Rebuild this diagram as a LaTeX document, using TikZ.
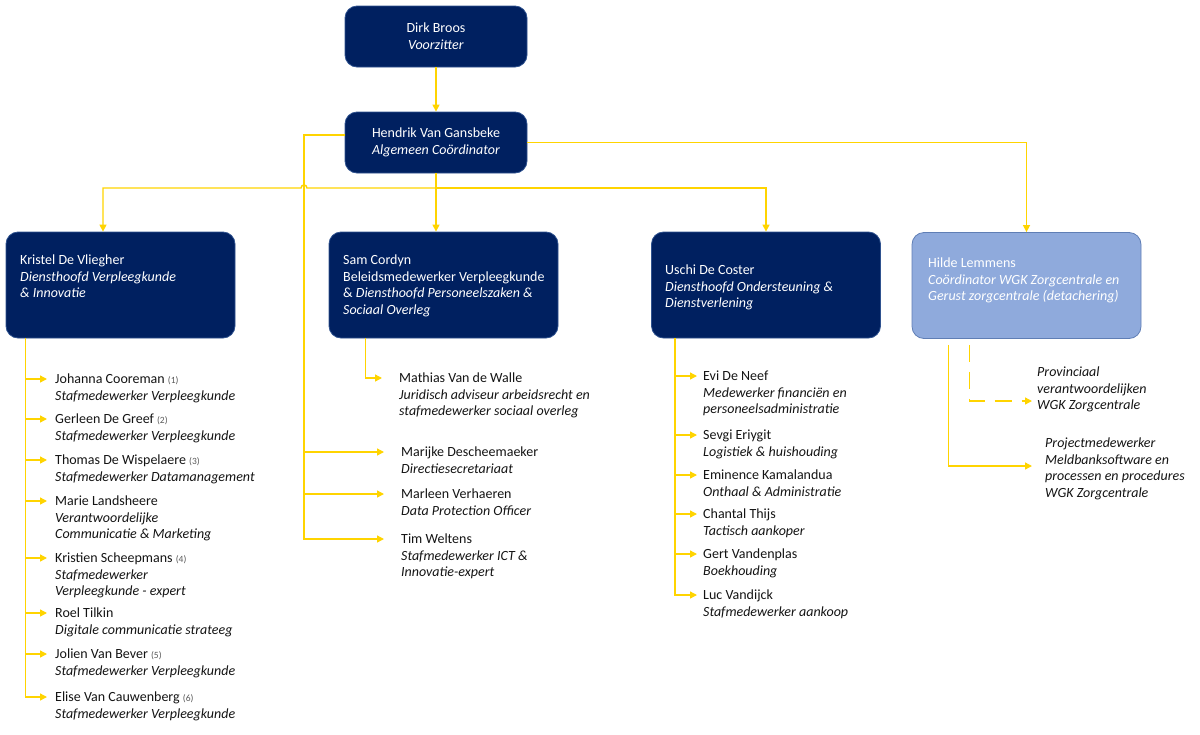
\documentclass[tikz,border=0pt]{standalone}
\usepackage{fontspec}
\setmainfont{Carlito}
\usetikzlibrary{arrows.meta}
\definecolor{navy}{RGB}{0,32,96}
\definecolor{navyline}{RGB}{47,82,143}
\definecolor{lightblue}{RGB}{143,170,220}
\definecolor{gold}{RGB}{255,212,0}
\definecolor{numgray}{RGB}{89,89,89}
\definecolor{inkblack}{RGB}{20,20,20}
\newcommand{\nr}[1]{{\fontsize{9.5}{10}\selectfont\color{numgray}#1}}
\newcommand{\basefnt}{\fontsize{14}{16.7}\selectfont}
\newcommand{\stk}[1]{\begin{tabular}[t]{@{}l@{}}#1\end{tabular}}
\begin{document}
\begin{tikzpicture}[x=1pt,y=-1pt,
  every node/.style={font=\basefnt},
  darkbox/.style={draw=navyline, line width=0.8pt, fill=navy, rounded corners=12pt, inner sep=0pt},
  lightbox/.style={darkbox, fill=lightblue, draw=navyline!50!lightblue},
  boxtext/.style={text=white, anchor=base west, inner sep=0pt},
  stafftext/.style={text=inkblack, anchor=base west, inner sep=0pt},
  itstaff/.style={stafftext, font=\basefnt\itshape},
  conn/.style={draw=gold, line width=1.4pt},
  arr/.style={conn, -{Triangle[length=7pt,width=7pt]}},
  dashconn/.style={arr, dash pattern=on 17pt off 10pt}
]
\useasboundingbox (0,0) rectangle (1200,734);

% main boxes
\node[darkbox, minimum width=182pt, minimum height=61pt, text=white, align=center] (dirk) at (436,36.5) {Dirk Broos\\\textit{Voorzitter}};
\node[darkbox, minimum width=182pt, minimum height=61pt, text=white, align=center] (hendrik) at (436,142.5) {Hendrik Van Gansbeke\\\textit{Algemeen Coördinator}};
\node[darkbox, minimum width=229pt, minimum height=106pt] (kristel) at (120.5,285) {};
\node[darkbox, minimum width=229pt, minimum height=106pt] (sam) at (443.5,285) {};
\node[darkbox, minimum width=229pt, minimum height=106pt] (uschi) at (766,285) {};
\node[lightbox, minimum width=229pt, minimum height=106pt] (hilde) at (1026.5,285.5) {};

\node[boxtext] (kristel-t) at (20,264.5) {\stk{Kristel De Vliegher\\\textit{Diensthoofd Verpleegkunde}\\\textit{\& Innovatie}}};
\node[boxtext] (sam-t) at (343,264.5) {\stk{Sam Cordyn\\Beleidsmedewerker Verpleegkunde\\\& \textit{Diensthoofd Personeelszaken \&}\\\textit{Sociaal Overleg}}};
\node[boxtext] (uschi-t) at (665,274.5) {\stk{Uschi De Coster\\\textit{Diensthoofd Ondersteuning \&}\\\textit{Dienstverlening}}};
\node[boxtext] (hilde-t) at (928,267.5) {\stk{Hilde Lemmens\\\textit{Coördinator WGK Zorgcentrale en}\\\textit{Gerust zorgcentrale (detachering)}}};

% Kristel staff
\node[stafftext] (johanna) at (55,383.5) {\stk{Johanna Cooreman \nr{(1)}\\\textit{Stafmedewerker Verpleegkunde}}};
\node[stafftext] (gerleen) at (55,423.5) {\stk{Gerleen De Greef \nr{(2)}\\\textit{Stafmedewerker Verpleegkunde}}};
\node[stafftext] (thomas) at (55,464.5) {\stk{Thomas De Wispelaere \nr{(3)}\\\textit{Stafmedewerker Datamanagement}}};
\node[stafftext] (marie) at (55,505.5) {\stk{Marie Landsheere\\\textit{Verantwoordelijke}\\\textit{Communicatie \& Marketing}}};
\node[stafftext] (kristien) at (55,562.5) {\stk{Kristien Scheepmans \nr{(4)}\\\textit{Stafmedewerker}\\\textit{Verpleegkunde - expert}}};
\node[stafftext] (roel) at (55,617.5) {\stk{Roel Tilkin\\\textit{Digitale communicatie strateeg}}};
\node[stafftext] (jolien) at (55,658.5) {\stk{Jolien Van Bever \nr{(5)}\\\textit{Stafmedewerker Verpleegkunde}}};
\node[stafftext] (elise) at (55,701.5) {\stk{Elise Van Cauwenberg \nr{(6)}\\\textit{Stafmedewerker Verpleegkunde}}};

% Sam / Hendrik staff
\node[stafftext] (mathias) at (399,382.5) {\stk{Mathias Van de Walle\\\textit{Juridisch adviseur arbeidsrecht en}\\\textit{stafmedewerker sociaal overleg}}};
\node[stafftext] (marijke) at (401,456.5) {\stk{Marijke Descheemaeker\\\textit{Directiesecretariaat}}};
\node[stafftext] (marleen) at (401,498.5) {\stk{Marleen Verhaeren\\\textit{Data Protection Officer}}};
\node[stafftext] (tim) at (401,543.5) {\stk{Tim Weltens\\\textit{Stafmedewerker ICT \&}\\\textit{Innovatie-expert}}};

% Uschi staff
\node[stafftext] (evi) at (703,380.5) {\stk{Evi De Neef\\\textit{Medewerker financiën en}\\\textit{personeelsadministratie}}};
\node[stafftext] (sevgi) at (703,439.5) {\stk{Sevgi Eriygit\\\textit{Logistiek \& huishouding}}};
\node[stafftext] (eminence) at (703,479.5) {\stk{Eminence Kamalandua\\\textit{Onthaal \& Administratie}}};
\node[stafftext] (chantal) at (703,518.5) {\stk{Chantal Thijs\\\textit{Tactisch aankoper}}};
\node[stafftext] (gert) at (703,558.5) {\stk{Gert Vandenplas\\\textit{Boekhouding}}};
\node[stafftext] (luc) at (703,599.5) {\stk{Luc Vandijck\\\textit{Stafmedewerker aankoop}}};

% Hilde staff
\node[itstaff] (prov) at (1037,376.5) {\stk{Provinciaal\\verantwoordelijken\\WGK Zorgcentrale}};
\node[itstaff] (proj) at (1045,447.5) {\stk{Projectmedewerker\\Meldbanksoftware en\\processen en procedures\\WGK Zorgcentrale}};

% arrow entry points
\foreach \n in {johanna,gerleen,thomas,marie,kristien,roel,jolien,elise}
  {\coordinate (\n-in) at ([xshift=-8pt,yshift=4.5pt]\n.base west);}
\foreach \n in {mathias,marijke,marleen,tim}
  {\coordinate (\n-in) at ([xshift=-17pt,yshift=4.5pt]\n.base west);}
\foreach \n in {evi,sevgi,eminence,chantal,gert,luc}
  {\coordinate (\n-in) at ([xshift=-6pt,yshift=4.5pt]\n.base west);}
\coordinate (prov-in) at ([xshift=-5pt,yshift=-24.5pt]prov.base west);
\coordinate (proj-in) at ([xshift=-13pt,yshift=-18.5pt]proj.base west);

% top connectors
\draw[arr] (dirk) -- (hendrik);
\coordinate (bus) at (436,188);
\coordinate (hopR) at (307,188);
\coordinate (hopL) at (301,188);
\draw[arr] (hendrik.south) -- (hendrik.south |- sam.north);
\draw[arr] (bus) -- (hopR) .. controls ([yshift=4pt]hopR) and ([yshift=4pt]hopL) .. (hopL) -| ([xshift=-17.5pt]kristel.north);
\draw[arr] (bus) -| (uschi.north);
\draw[arr] (hendrik.east) -| (hilde.north);

% Hendrik staff line
\coordinate (lspine) at (304,135);
\draw[arr] ([yshift=7.5pt]hendrik.west) -- (lspine) |- (tim-in);
\draw[arr] (lspine |- marijke-in) -- (marijke-in);
\draw[arr] (lspine |- marleen-in) -- (marleen-in);

% Kristel spine
\coordinate (kspine) at ([xshift=20pt]kristel.south west);
\draw[arr] (kspine) |- (elise-in);
\foreach \n in {johanna,gerleen,thomas,marie,kristien,roel,jolien}
  {\draw[arr] (kspine |- \n-in) -- (\n-in);}

% Sam
\draw[arr] ([xshift=37pt]sam.south west) |- (mathias-in);

% Uschi spine
\coordinate (uspine) at ([xshift=24pt]uschi.south west);
\draw[arr] (uspine) |- (luc-in);
\foreach \n in {evi,sevgi,eminence,chantal,gert}
  {\draw[arr] (uspine |- \n-in) -- (\n-in);}

% Hilde
\draw[arr] ([xshift=37pt,yshift=-6pt]hilde.south west) |- (proj-in);
\draw[dashconn] ([xshift=58pt,yshift=-6pt]hilde.south west) |- (prov-in);
\end{tikzpicture}
\end{document}
